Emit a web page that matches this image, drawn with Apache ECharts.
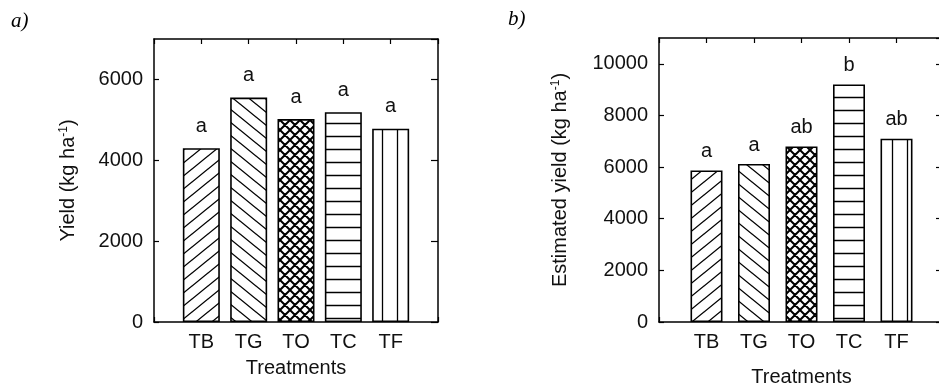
<!DOCTYPE html>
<html>
<head>
<meta charset="utf-8">
<script src="https://cdn.jsdelivr.net/npm/echarts@6/dist/echarts.min.js"></script>
<style>html,body{margin:0;padding:0;background:#fff;}#c{width:939px;height:384px;}</style>
</head>
<body>
<div id="c"></div>
<script>
// ---- data ----
const categories = ['TB', 'TG', 'TO', 'TC', 'TF'];
const yieldA = [4300, 5550, 5020, 5190, 4780];
const lettersA = ['a', 'a', 'a', 'a', 'a'];
const yieldB = [5870, 6120, 6800, 9200, 7100];
const lettersB = ['a', 'a', 'ab', 'b', 'ab'];
const yTicksA = [0, 2000, 4000, 6000];
const yTicksB = [0, 2000, 4000, 6000, 8000, 10000];
const patternKinds = ['fwd', 'bwd', 'cross', 'horiz', 'vert'];

// ---- pattern fills ----
function makePattern(kind) {
  const c = document.createElement('canvas');
  let w = 16, h = 13, lw = 1.3;
  if (kind === 'cross') { w = 10; h = 10; lw = 2; }
  if (kind === 'horiz') { w = 8; h = 13; lw = 1.5; }
  if (kind === 'vert') { w = 15; h = 8; lw = 1.3; }
  c.width = w; c.height = h;
  const ctx = c.getContext('2d');
  ctx.fillStyle = '#fff';
  ctx.fillRect(0, 0, w, h);
  ctx.strokeStyle = '#000';
  ctx.lineWidth = lw;
  ctx.beginPath();
  for (let dx = -w; dx <= w; dx += w) {
    for (let dy = -h; dy <= h; dy += h) {
      if (kind === 'fwd' || kind === 'cross') {
        ctx.moveTo(dx, dy + h); ctx.lineTo(dx + w, dy);
      }
      if (kind === 'bwd' || kind === 'cross') {
        ctx.moveTo(dx, dy); ctx.lineTo(dx + w, dy + h);
      }
    }
  }
  if (kind === 'horiz') { ctx.moveTo(0, h / 2); ctx.lineTo(w, h / 2); }
  if (kind === 'vert') { ctx.moveTo(w / 2, 0); ctx.lineTo(w / 2, h); }
  ctx.stroke();
  return { image: c, repeat: 'repeat' };
}
const fills = patternKinds.map(makePattern);

const cats = [''].concat(categories, ['']);
function pad(arr, letters) {
  return [null].concat(arr.map((v, i) => ({
    value: v,
    itemStyle: { color: fills[i] },
    label: { formatter: letters[i] }
  })), [null]);
}

const FONT = "'Liberation Sans', Arial, sans-serif";
const lineStyle = { color: '#000', width: 1.5 };

function xAxes(gridIndex, pos) {
  return {
    type: 'category', gridIndex: gridIndex, position: pos, data: cats,
    boundaryGap: false,
    axisLine: { show: true, onZero: false, lineStyle: lineStyle },
    axisTick: { show: true, inside: true, length: 5, interval: 0, lineStyle: { color: '#000', width: 1.2 } },
    axisLabel: { show: pos === 'bottom', interval: 0, margin: 10, fontSize: 20, color: '#111', fontFamily: FONT },
    splitLine: { show: false }
  };
}
function yAxes(gridIndex, pos, max, name, gap, rLen, ticks) {
  return {
    type: 'value', gridIndex: gridIndex, position: pos, min: 0, max: max, interval: 2000,
    name: pos === 'left' ? name : '',
    nameLocation: 'middle', nameGap: gap, nameRotate: 90,
    nameTextStyle: {
      color: '#111', fontFamily: FONT,
      rich: {
        n: { fontSize: 20, fontFamily: FONT, color: '#111' },
        s: { fontSize: 12, fontFamily: FONT, color: '#111', verticalAlign: 'top', padding: [0, 0, 8, 0] }
      }
    },
    axisLine: { show: true, onZero: false, lineStyle: lineStyle },
    axisTick: { show: true, inside: true, length: pos === 'left' ? 5 : rLen, lineStyle: { color: '#000', width: 1.2 } },
    axisLabel: {
      show: pos === 'left', margin: 11, fontSize: 20, color: '#111', fontFamily: FONT, showMaxLabel: false,
      formatter: v => (ticks.indexOf(v) >= 0 ? String(v) : '')
    },
    splitLine: { show: false }
  };
}

const labelBase = { show: true, position: 'top', fontSize: 20, color: '#111', fontFamily: FONT };

const option = {
  backgroundColor: '#fff',
  animation: false,
  title: [
    { text: 'a)', left: 6, top: 6, textStyle: { fontFamily: "'Liberation Serif', 'Times New Roman', serif", fontStyle: 'italic', fontWeight: 'normal', fontSize: 21, color: '#000' } },
    { text: 'b)', left: 503, top: 4, textStyle: { fontFamily: "'Liberation Serif', 'Times New Roman', serif", fontStyle: 'italic', fontWeight: 'normal', fontSize: 21, color: '#000' } }
  ],
  grid: [
    { left: 154, right: 501, top: 39, bottom: 62, containLabel: false, outerBoundsMode: 'none' },
    { left: 659, right: -5, top: 38, bottom: 62, containLabel: false, outerBoundsMode: 'none' }
  ],
  xAxis: [
    Object.assign(xAxes(0, 'bottom'), { name: 'Treatments', nameLocation: 'middle', nameGap: 36, nameTextStyle: { fontSize: 20, color: '#111', fontFamily: FONT } }),
    xAxes(0, 'top'),
    Object.assign(xAxes(1, 'bottom'), { name: 'Treatments', nameLocation: 'middle', nameGap: 45, nameTextStyle: { fontSize: 20, color: '#111', fontFamily: FONT } }),
    xAxes(1, 'top')
  ],
  yAxis: [
    yAxes(0, 'left', 7000, '{n|Yield (kg ha}{s|-1}{n|)}', 76, 7, yTicksA),
    yAxes(0, 'right', 7000, '', 0, 7, yTicksA),
    yAxes(1, 'left', 11000, '{n|Estimated yield (kg ha}{s|-1}{n|)}', 89, 8, yTicksB),
    yAxes(1, 'right', 11000, '', 0, 8, yTicksB)
  ],
  series: [
    {
      type: 'bar', xAxisIndex: 0, yAxisIndex: 0, barWidth: 37,
      data: pad(yieldA, lettersA),
      itemStyle: { borderColor: '#000', borderWidth: 1.6 },
      label: Object.assign({ distance: 12 }, labelBase)
    },
    {
      type: 'bar', xAxisIndex: 2, yAxisIndex: 2, barWidth: 32,
      data: pad(yieldB, lettersB),
      itemStyle: { borderColor: '#000', borderWidth: 1.6 },
      label: Object.assign({ distance: 9 }, labelBase)
    }
  ]
};

const chart = echarts.init(document.getElementById('c'), null, { renderer: 'canvas' });
chart.setOption(option);
</script>
</body>
</html>
